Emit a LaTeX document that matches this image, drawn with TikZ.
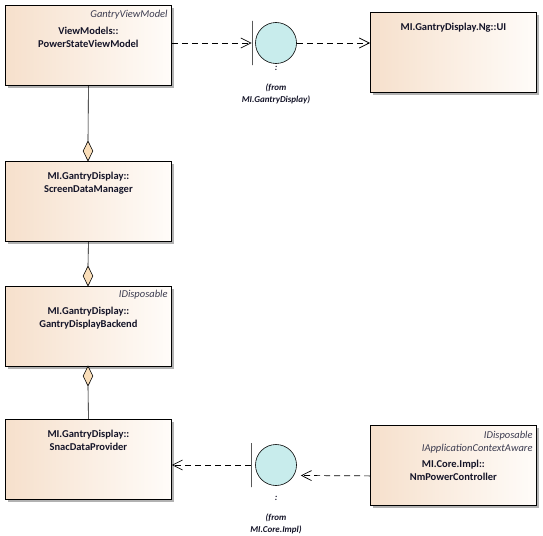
\documentclass[tikz,border=0pt]{standalone}
\usepackage{fontspec}
\setmainfont{Carlito}
\usetikzlibrary{arrows.meta,shapes.geometric,shadows}
\definecolor{clsleft}{RGB}{246,224,204}
\definecolor{clsright}{RGB}{255,252,249}
\definecolor{aggfill}{RGB}{250,222,185}
\definecolor{iffill}{RGB}{200,236,236}
\definecolor{nametext}{RGB}{20,20,40}
\definecolor{stereotext}{RGB}{60,60,80}
\begin{document}
\begin{tikzpicture}[x=1pt, y=-1pt,
  cls/.style = {draw, line width=0.8pt, anchor=north west, inner sep=0pt,
    minimum width=166pt, minimum height=80pt,
    left color=clsleft, right color=clsright,
    drop shadow={shadow xshift=3pt, shadow yshift=-3pt, fill=black!30, opacity=1}},
  title/.style = {anchor=north, inner sep=0pt, align=center, text=nametext,
    font=\bfseries\fontsize{10.5}{13}\selectfont},
  stereo/.style = {anchor=north east, inner sep=0pt, align=right, text=stereotext,
    font=\itshape\fontsize{10.5}{13}\selectfont},
  agg/.style = {shape=diamond, draw, line width=0.6pt, fill=aggfill,
    minimum width=10pt, minimum height=20pt, inner sep=0pt},
  iface/.style = {circle, draw, line width=0.6pt, fill=iffill,
    minimum size=41pt, inner sep=0pt},
  bar/.style = {draw, line width=0.8pt, minimum width=0pt,
    minimum height=44pt, inner sep=0pt},
  dep/.style = {dash pattern=on 6pt off 4pt, line width=0.7pt,
    -{Straight Barb[length=10pt,width=10pt]}},
  pkg/.style = {inner sep=0pt, align=center, text=nametext,
    font=\bfseries\itshape\fontsize{9}{12}\selectfont}]
  \useasboundingbox (0,0) rectangle (543,535);

  \node [cls] (vm) at (5,5) {};
  \node [stereo] at ([xshift=-4pt,yshift=-5pt]vm.north east) {GantryViewModel};
  \node [title] at ([yshift=-22pt]vm.north) {ViewModels::\\PowerStateViewModel};

  \node [cls] (ui) at (370,12) {};
  \node [title] at ([yshift=-11pt]ui.north) {MI.GantryDisplay.Ng::UI};

  \node [cls] (sdm) at (5,161) {};
  \node [title] at ([yshift=-11pt]sdm.north) {MI.GantryDisplay::\\ScreenDataManager};

  \node [cls] (gdb) at (5,286) {};
  \node [stereo] at ([xshift=-4pt,yshift=-4pt]gdb.north east) {IDisposable};
  \node [title] at ([yshift=-21pt]gdb.north) {MI.GantryDisplay::\\GantryDisplayBackend};

  \node [cls] (sdp) at (5,419) {};
  \node [title] at ([yshift=-11pt]sdp.north) {MI.GantryDisplay::\\SnacDataProvider};

  \node [cls] (npc) at (370,425) {};
  \node [stereo] at ([xshift=-4pt,yshift=-6pt]npc.north east) {IDisposable\\IApplicationContextAware};
  \node [title] at ([yshift=-35pt]npc.north) {MI.Core.Impl::\\NmPowerController};

  \node [agg] (agg1) at (88,151) {};
  \node [agg] (agg2) at (88,276) {};
  \node [agg] (agg3) at (88,376) {};
  \draw [line width=0.6pt] (vm.south) -- (agg1.north);
  \draw [line width=0.6pt] (sdm.south) -- (agg2.north);
  \draw [line width=0.6pt] (agg3.south) -- (sdp.north);

  \node [iface] (uiIf) at (276,43) {};
  \node [bar] (uiBar) at (252,43) {};
  \node [pkg] (uiCol) at (276,68) {:};
  \node [pkg] (uiPkg) at (276,94) {(from\\MI.GantryDisplay)};

  \node [iface] (pcIf) at (276,465) {};
  \node [bar] (pcBar) at (251,465) {};
  \node [pkg] (pcCol) at (276,498) {:};
  \node [pkg] (pcPkg) at (276,524) {(from\\MI.Core.Impl)};

  \draw [dep] (vm.east |- uiBar) -- (uiBar);
  \draw [dep] (uiIf) -- (ui.west |- uiIf);
  \draw [dep] (pcBar) -- (sdp.east |- pcBar);
  \draw [dep] ([yshift=-10.5pt]npc.west) -- ([shift={(4,10.5)}]pcIf.east);
\end{tikzpicture}
\end{document}
